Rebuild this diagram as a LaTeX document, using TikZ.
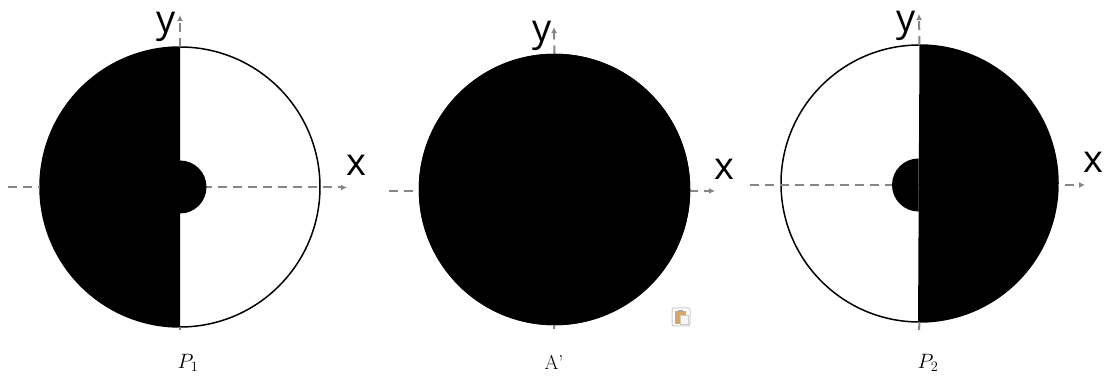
\documentclass[tikz,border=0pt]{standalone}
\usepackage{fontspec}
\setsansfont{Open Sans}
\usetikzlibrary{arrows.meta}
\definecolor{clipbrown}{HTML}{D6A767}

\begin{document}
\begin{tikzpicture}[x=1pt, y=1pt, every node/.style={inner sep=0pt, outer sep=0pt},
	axis/.style={draw=gray!95, line width=2pt, dash pattern=on 9pt off 6pt},
	axisend/.style={axis, -{Latex[length=6pt,width=6pt]}},
	disc/.style={circle, draw=black, fill=white, line width=1.5pt},
	axlabel/.style={font=\sffamily\fontsize{38}{38}\selectfont},
	caption/.style={font=\fontsize{20}{20}\selectfont}]
		\useasboundingbox (0,0) rectangle (1104,379);

		\node[disc, minimum size=280pt] (Pa) at (180,192) {};
		\coordinate (PaW) at (8,191.5);
		\coordinate (PaE) at (347,191.5);
		\coordinate (PaS) at (180,49);
		\coordinate (PaN) at (180,364);
		\draw[axisend] (PaW) -- (PaE);
		\draw[axisend] (Pa.north) -- (PaN);
		\draw[axis] (Pa.south) -- (PaS);
		\fill (Pa.north) arc[start angle=90, end angle=270, radius=140pt] -- cycle;
		\fill (Pa.center) ++(0,26.5) arc[start angle=90, end angle=-90, radius=26.5pt] -- cycle;
		\node[axlabel] (Pay) at (166,352) {y};
		\node[axlabel] (Pax) at (356,214) {x};
		\node[caption] (Pac) at (188,16) {$P_1$};

		\node[disc, minimum size=270pt, fill=black] (Ab) at (554.5,189.5) {};
		\coordinate (AbW) at (389,188);
		\coordinate (AbE) at (715,188);
		\coordinate (AbS) at (554,50);
		\coordinate (AbN) at (554,352);
		\draw[axisend] (AbW) -- (AbE);
		\draw[axisend] (Ab.north) -- (AbN);
		\draw[axis] (Ab.south) -- (AbS);
		\node[disc, minimum size=270pt, fill=black] at (Ab) {};
		\node[axlabel] (Aby) at (542,343) {y};
		\node[axlabel] (Abx) at (724,210) {x};
		\node[caption] (Abc) at (554,17) {A'};

		\node[disc, minimum size=277pt] (Pb) at (919.5,195.5) {};
		\coordinate (PbW) at (750,194);
		\coordinate (PbE) at (1085,194);
		\coordinate (PbS) at (919,49);
		\coordinate (PbN) at (919,365);
		\draw[axisend] (PbW) -- (PbE);
		\draw[axisend] (Pb.north) -- (PbN);
		\draw[axis] (Pb.south) -- (PbS);
		\fill (Pb.north) arc[start angle=90, end angle=-90.6, radius=138.5pt] -- cycle;
		\fill (918.5,220.5) arc[start angle=90, end angle=270, radius=26.5pt] -- cycle;
		\node[axlabel] (Pby) at (906,353) {y};
		\node[axlabel] (Pbx) at (1093,217) {x};
		\node[caption] (Pbc) at (928,16) {$P_2$};

		\node[draw=gray!40, fill=white, rounded corners=2pt, line width=1pt, minimum size=18pt] (Ic) at (681,62) {};
		\node[fill=clipbrown, minimum width=11pt, minimum height=13pt] (Ib) at (680.5,61.5) {};
		\node[fill=gray!70, minimum width=5pt, minimum height=2pt] (Ik) at (680.5,68) {};
		\node[draw=gray!40, fill=gray!8, line width=.5pt, minimum width=8pt, minimum height=9pt] (Ip) at (684.5,59.5) {};
	\end{tikzpicture}
\end{document}
